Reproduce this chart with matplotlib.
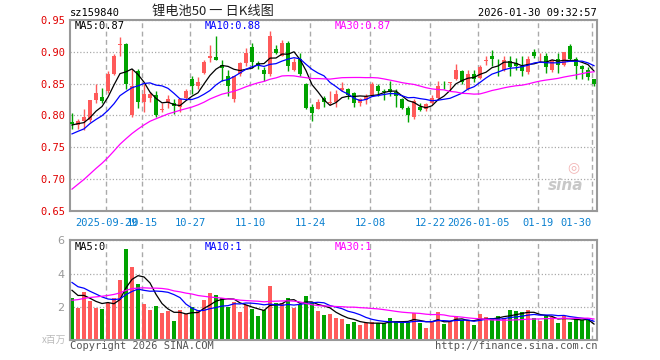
# -*- coding: utf-8 -*-
import numpy as np
import pandas as pd
import matplotlib
matplotlib.use("Agg")
from matplotlib import pyplot as plt

code = "sz159840"
title = "锂电池50 一 日K线图"
stamp = "2026-01-30 09:32:57"

# daily candles, 2025-09-19 .. 2026-01-30
opens = [0.790, 0.785, 0.791, 0.793, 0.824, 0.829, 0.839, 0.866, 0.911, 0.913,
         0.801, 0.870, 0.821, 0.828, 0.832, 0.809, 0.819, 0.820, 0.814, 0.827,
         0.857, 0.847, 0.867, 0.891, 0.892, 0.879, 0.863, 0.826, 0.865, 0.882,
         0.908, 0.883, 0.871, 0.865, 0.905, 0.894, 0.914, 0.872, 0.889, 0.849,
         0.814, 0.811, 0.828, 0.820, 0.821, 0.840, 0.842, 0.836, 0.819, 0.825,
         0.832, 0.847, 0.838, 0.842, 0.837, 0.826, 0.812, 0.797, 0.814, 0.811,
         0.819, 0.828, 0.853, 0.851, 0.858, 0.870, 0.842, 0.865, 0.859, 0.886,
         0.893, 0.880, 0.871, 0.886, 0.883, 0.878, 0.868, 0.900, 0.890, 0.894,
         0.871, 0.889, 0.879, 0.909, 0.889, 0.878, 0.871, 0.857]
closes = [0.786, 0.791, 0.798, 0.824, 0.835, 0.823, 0.865, 0.894, 0.913, 0.849,
          0.846, 0.821, 0.834, 0.834, 0.800, 0.811, 0.826, 0.815, 0.826, 0.839,
          0.846, 0.853, 0.885, 0.893, 0.888, 0.875, 0.846, 0.862, 0.883, 0.898,
          0.884, 0.879, 0.865, 0.926, 0.899, 0.915, 0.878, 0.884, 0.865, 0.812,
          0.804, 0.821, 0.821, 0.822, 0.834, 0.843, 0.832, 0.819, 0.826, 0.831,
          0.849, 0.838, 0.837, 0.837, 0.831, 0.812, 0.800, 0.823, 0.808, 0.818,
          0.828, 0.847, 0.852, 0.852, 0.871, 0.853, 0.866, 0.858, 0.876, 0.888,
          0.889, 0.879, 0.888, 0.877, 0.878, 0.870, 0.889, 0.893, 0.891, 0.877,
          0.888, 0.879, 0.900, 0.889, 0.878, 0.873, 0.861, 0.849]
highs = [0.804, 0.795, 0.811, 0.825, 0.849, 0.844, 0.870, 0.897, 0.924, 0.914,
         0.874, 0.873, 0.849, 0.837, 0.839, 0.820, 0.832, 0.826, 0.827, 0.841,
         0.862, 0.860, 0.887, 0.911, 0.926, 0.888, 0.871, 0.863, 0.884, 0.906,
         0.914, 0.886, 0.877, 0.933, 0.911, 0.919, 0.917, 0.891, 0.898, 0.851,
         0.818, 0.826, 0.831, 0.838, 0.840, 0.853, 0.843, 0.837, 0.828, 0.834,
         0.852, 0.849, 0.842, 0.854, 0.841, 0.828, 0.815, 0.826, 0.820, 0.820,
         0.832, 0.854, 0.854, 0.853, 0.881, 0.871, 0.871, 0.871, 0.879, 0.893,
         0.903, 0.889, 0.894, 0.893, 0.890, 0.893, 0.893, 0.905, 0.899, 0.899,
         0.889, 0.899, 0.900, 0.913, 0.892, 0.879, 0.877, 0.857]
lows = [0.779, 0.779, 0.777, 0.790, 0.819, 0.819, 0.836, 0.864, 0.893, 0.841,
        0.798, 0.812, 0.806, 0.821, 0.798, 0.806, 0.812, 0.802, 0.805, 0.825,
        0.834, 0.841, 0.865, 0.885, 0.887, 0.854, 0.831, 0.821, 0.862, 0.878,
        0.875, 0.873, 0.854, 0.862, 0.897, 0.893, 0.870, 0.870, 0.862, 0.810,
        0.792, 0.810, 0.814, 0.816, 0.814, 0.838, 0.826, 0.814, 0.815, 0.818,
        0.831, 0.831, 0.824, 0.831, 0.814, 0.810, 0.790, 0.795, 0.807, 0.807,
        0.818, 0.826, 0.842, 0.839, 0.856, 0.849, 0.840, 0.853, 0.858, 0.879,
        0.878, 0.862, 0.870, 0.862, 0.871, 0.862, 0.866, 0.890, 0.885, 0.867,
        0.869, 0.867, 0.878, 0.887, 0.858, 0.858, 0.856, 0.846]
# volume, millions
vols = [2.51, 1.95, 2.91, 2.35, 1.95, 1.87, 2.25, 2.55, 3.61, 5.47,
        4.39, 3.37, 2.17, 1.81, 2.05, 1.63, 1.75, 1.16, 1.81, 1.56,
        1.99, 1.81, 2.41, 2.83, 2.71, 2.51, 1.99, 2.31, 1.71, 2.11,
        1.87, 1.45, 1.81, 3.25, 2.23, 2.23, 2.53, 1.95, 2.15, 2.65,
        2.23, 1.77, 1.51, 1.57, 1.34, 1.28, 0.98, 1.10, 0.92, 1.02,
        1.10, 1.02, 1.02, 1.34, 1.10, 1.10, 1.10, 1.61, 1.04, 0.74,
        1.10, 1.69, 0.98, 1.10, 1.44, 1.22, 1.20, 0.92, 1.57, 1.40,
        1.34, 1.46, 1.34, 1.81, 1.75, 1.69, 1.81, 1.34, 1.16, 1.46,
        1.40, 1.04, 1.46, 1.10, 1.28, 1.22, 1.22, 0.05]

# the 29 sessions before the window (only felt through the MA lines, guessed from where they start)
pre_closes = [0.560, 0.570, 0.565, 0.575, 0.580, 0.590, 0.585, 0.595, 0.590, 0.600,
              0.610, 0.640, 0.660, 0.680, 0.700, 0.710, 0.730, 0.740, 0.760, 0.770,
              0.750, 0.760, 0.740, 0.770, 0.765, 0.780, 0.790, 0.785, 0.784]
pre_vols = [0.70, 0.80, 0.60, 0.90, 0.75, 0.80, 0.70, 0.85, 0.80, 1.50,
            2.20, 1.80, 2.40, 2.00, 2.20, 3.20, 4.10, 3.50, 3.90, 3.60,
            4.50, 3.80, 4.20, 3.60, 3.60, 3.50, 2.90, 3.20, 2.89]

tick_dates = ["2025-09-29", "2025-10-15", "2025-10-27", "2025-11-10", "2025-11-24",
              "2025-12-08", "2025-12-22", "2026-01-05", "2026-01-19", "2026-01-30"]
tick_labels = ["2025-09-29", "10-15", "10-27", "11-10", "11-24",
               "12-08", "12-22", "2026-01-05", "01-19", "01-30"]

holidays = pd.to_datetime(["2025-10-01", "2025-10-02", "2025-10-03", "2025-10-06",
                           "2025-10-07", "2025-10-08", "2026-01-01", "2026-01-02"])
days = pd.bdate_range("2025-09-19", "2026-01-30")
days = days[~days.isin(holidays)]
n = len(closes)
x = np.arange(n)
ticks = [days.get_loc(pd.Timestamp(d)) - 1 / 3 for d in tick_dates]

npre = len(pre_closes)
def ma(pre, data, k):
    return pd.Series(list(pre) + list(data)).rolling(k).mean().to_numpy()[npre:]

RED = "#ff5a5a"
GREEN = "#00a300"
GRID = "#aaaaaa"
MONO = "DejaVu Sans Mono"

o, c, h, l = map(np.array, (opens, closes, highs, lows))
up = c >= o
cols = np.where(up, RED, GREEN)

fig = plt.figure(figsize=(6.6, 3.6), dpi=100)
W, H = 660.0, 360.0
ax = fig.add_axes([70 / W, 1 - 210.7 / H, 527 / W, 190.4 / H])
axv = fig.add_axes([70 / W, 1 - 340.3 / H, 527 / W, 100 / H])

for a in (ax, axv):
    a.set_xlim(-1 / 3, n - 0.5)
    for s in a.spines.values():
        s.set_color("#999999")
        s.set_linewidth(1.5)
    a.tick_params(length=0)
    for t in ticks:
        a.axvline(t, color=GRID, lw=1, ls=(0, (3.5, 2.5)), zorder=0)

# candles
ax.vlines(x, l, h, colors=cols, lw=1, zorder=2)
ax.bar(x, np.maximum(np.abs(c - o), 0.0012), bottom=np.minimum(o, c),
       width=0.78, color=cols, zorder=3)
ax.plot(x, ma(pre_closes, closes, 5), color="black", lw=0.9, zorder=4)
ax.plot(x, ma(pre_closes, closes, 10), color="#0000ff", lw=0.9, zorder=4)
ax.plot(x, ma(pre_closes, closes, 30), color="#ff00ff", lw=0.9, zorder=4)

ax.set_ylim(0.65, 0.95)
ax.set_yticks([0.65, 0.70, 0.75, 0.80, 0.85, 0.90, 0.95])
ax.set_yticklabels(["%.2f" % v for v in ax.get_yticks()], color="#e00000",
                   family=MONO, fontsize=7.5)
ax.tick_params(axis="y", pad=3)
ax.yaxis.grid(True, color=GRID, lw=0.9, ls=(0, (1, 1.6)))
ax.set_xticks(ticks)
ax.set_xticklabels(tick_labels, color="#0a80d0", family=MONO, fontsize=7.5)
ax.tick_params(axis="x", pad=5)
ax.get_xticklabels()[-1].set_ha("right")
ax.get_xticklabels()[-1].set_x(ticks[-1])

# volume
axv.bar(x, vols, width=0.8, color=cols, zorder=2)
axv.plot(x, ma(pre_vols, vols, 5), color="black", lw=0.9, zorder=4)
axv.plot(x, ma(pre_vols, vols, 10), color="#0000ff", lw=0.9, zorder=4)
axv.plot(x, ma(pre_vols, vols, 30), color="#ff00ff", lw=0.9, zorder=4)
axv.set_ylim(0, 6)
axv.set_yticks([2, 4, 6])
axv.set_yticklabels(["2", "4", "6"], color="#999999", fontsize=8)
axv.tick_params(axis="y", pad=4)
axv.yaxis.grid(True, color=GRID, lw=0.9, ls=(0, (1, 1.6)))
axv.set_xticks([])

# texts
def ftext(px, py, s, **kw):
    kw.setdefault("family", MONO)
    kw.setdefault("fontsize", 7.5)
    kw.setdefault("va", "center")
    fig.text(px / W, 1 - py / H, s, **kw)

ftext(70, 12.5, code, color="black")
ftext(213, 11.5, title, color="#222222", ha="center", fontsize=9.5,
      family=["Noto Sans CJK SC", "DejaVu Sans"])
ftext(597, 12.5, stamp, color="black", ha="right")
ftext(75, 26, "MA5:%.2f" % ma(pre_closes, closes, 5)[-1], color="black")
ftext(205, 26, "MA10:%.2f" % ma(pre_closes, closes, 10)[-1], color="#0000ff")
ftext(335, 26, "MA30:%.2f" % ma(pre_closes, closes, 30)[-1], color="#ff00ff")
ftext(75, 246.5, "MA5:0", color="black")
ftext(205, 246.5, "MA10:1", color="#0000ff")
ftext(335, 246.5, "MA30:1", color="#ff00ff")
ftext(70, 346, "Copyright 2026 SINA.COM", color="#555555")
ftext(597, 346, "http://finance.sina.com.cn", color="#555555", ha="right")
ftext(66, 340, "x百万", color="#bbbbbb", ha="right", fontsize=7,
      family=["Noto Sans CJK SC", "DejaVu Sans"])

# sina watermark
ax.text(0.975, 0.13, "sina", transform=ax.transAxes, ha="right", va="center",
        fontsize=11, fontweight="bold", style="italic", color="#c8c8c8")
ax.text(0.955, 0.23, "◎", transform=ax.transAxes, ha="center", va="center",
        fontsize=10, color="#f2b4b4")

fig.savefig("out.png", dpi=100)
